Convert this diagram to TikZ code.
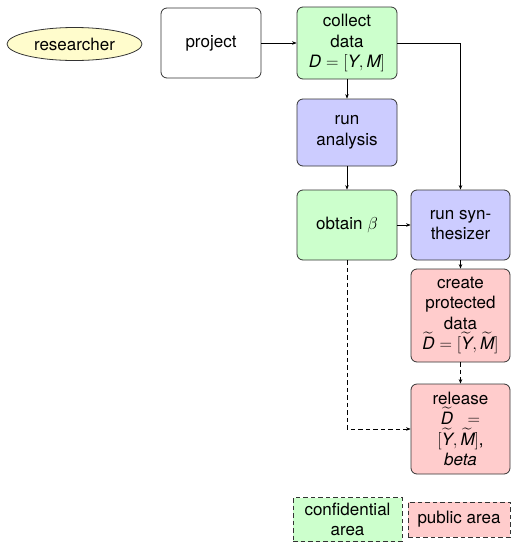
\documentclass[tikz,border=0pt]{standalone}
\usepackage{amsmath}
\usepackage{fontspec}
\setmainfont{TeX Gyre Heros}
\usetikzlibrary{positioning,arrows.meta,shapes.geometric}

\begin{document}
\begin{tikzpicture}[x=1pt, y=-1pt, ->, >={Stealth[length=4.5pt,width=3.5pt]}, line width=0.6pt,
	every node/.style={draw=black!80, line width=0.8pt, font=\fontsize{17}{20.5}\selectfont}, align=center,
	box/.style={rounded corners=6pt, minimum width=100pt, minimum height=70pt, inner sep=2pt},
	secret/.style={box, fill=green!20},
	synth/.style={box, fill=blue!20},
	open/.style={box, fill=red!20},
	area/.style={dash pattern=on 4.5pt off 3pt, inner sep=3pt}]
	\useasboundingbox (0,0) rectangle (511,542);

	\node [ellipse, fill=yellow!20, minimum width=135pt, minimum height=33pt, inner sep=0pt] (res) at (74.5,44) {researcher};
	\node [box, fill=white] (proj) at (211,43) {project};
	\node [secret, minimum height=72pt] (coll) at (347,43) {collect\\ data\\ $\textit{D} = [\textit{Y}, \textit{M}]$};
	\node [synth, minimum height=67pt] (ana) at (347,132.5) {run\\ analysis};
	\node [secret] (obt) at (347,225) {obtain $\beta$};
	\node [synth, minimum width=99pt] (syn) at (460.5,225) {run syn-\\ thesizer};
	\node [open, minimum width=99pt, minimum height=93pt] (crea) at (460.5,315.5) {create\\ protected\\ data\\ $\widetilde{\textit{D}} = [\widetilde{\textit{Y}}, \widetilde{\textit{M}}]$};
	\node [open, minimum width=99pt, minimum height=90pt] (rel) at (460.5,429) {release\\ $\widetilde{\textit{D}}\;\;=$\\ $[\widetilde{\textit{Y}}, \widetilde{\textit{M}}]$,\\ \textit{beta}};

	\node [area, fill=green!20, minimum width=109pt, minimum height=44pt] (conf) at (347.5,519.5) {confidential\\ area};
	\node [area, fill=red!20, minimum width=102pt, minimum height=35pt] (pub) at (459,519.5) {public area};

	\draw (proj) -> (coll);
	\draw (coll) -> (ana);
	\draw (ana) -> (obt);
	\draw (obt) -> (syn);
	\draw (syn) -> (crea);
	\draw (coll.east) -| (syn.north);
	\draw [dash pattern=on 4.5pt off 3pt] (crea) -> (rel);
	\draw [dash pattern=on 4.5pt off 3pt] (obt.south) |- (rel.west);

\end{tikzpicture}
\end{document}
